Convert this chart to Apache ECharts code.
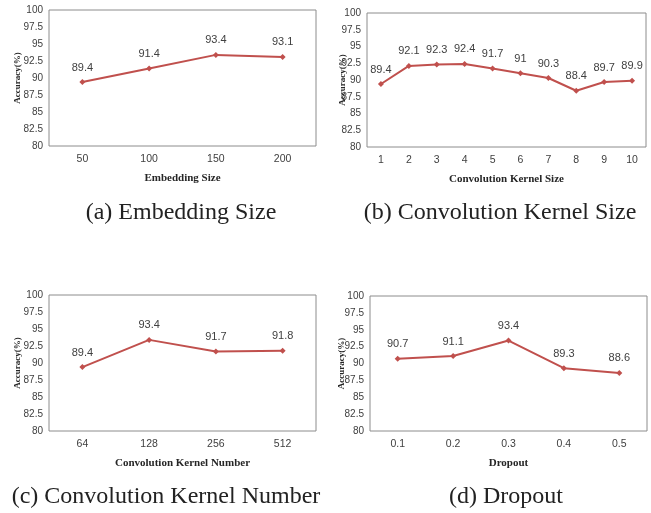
<!DOCTYPE html>
<html><head><meta charset="utf-8">
<script src="https://cdn.jsdelivr.net/npm/echarts@6/dist/echarts.min.js"></script>
<style>html,body{margin:0;padding:0;background:#fff}#c{width:651px;height:513px}</style>
</head><body><div id="c"></div>
<script>
const catsA = ['50','100','150','200'];
const valsA = [89.4, 91.4, 93.4, 93.1];
const catsB = ['1','2','3','4','5','6','7','8','9','10'];
const valsB = [89.4, 92.1, 92.3, 92.4, 91.7, 91, 90.3, 88.4, 89.7, 89.9];
const catsC = ['64','128','256','512'];
const valsC = [89.4, 93.4, 91.7, 91.8];
const catsD = ['0.1','0.2','0.3','0.4','0.5'];
const valsD = [90.7, 91.1, 93.4, 89.3, 88.6];
const xNames = ['Embedding Size','Convolution Kernel Size','Convolution Kernel Number','Dropout'];
const captions = ['(a) Embedding Size','(b) Convolution Kernel Size','(c) Convolution Kernel Number','(d) Dropout'];
const yName = 'Accuracy(%)';
const yMin = 80, yMax = 100, yStep = 2.5;

const grids = [
  {left:49, top:10, width:267, height:136},
  {left:367, top:13, width:279, height:134},
  {left:49, top:295, width:267, height:136},
  {left:370, top:296, width:277, height:135}
];
const yNameGaps = [27, 20, 27, 24];
const cats = [catsA, catsB, catsC, catsD];
const vals = [valsA, valsB, valsC, valsD];
const red = '#C0504D';
const capFont = '24px "Liberation Serif"';

const option = {
  backgroundColor:'#fff',
  animation:false,
  grid: grids.map(g => Object.assign({show:true, borderColor:'#8c8c8c', borderWidth:1, backgroundColor:'transparent', containLabel:false}, g)),
  xAxis: cats.map((c,i) => ({
    type:'category', gridIndex:i, data:c, boundaryGap:true,
    axisLine:{show:false}, axisTick:{show:false},
    axisLabel:{color:'#404040', fontSize:10.5, fontFamily:'Liberation Sans', margin:8},
    name:xNames[i], nameLocation:'middle', nameGap:27, nameMoveOverlap:false,
    nameTextStyle:{fontFamily:'Liberation Serif', fontWeight:'bold', fontSize:11, color:'#262626'}
  })),
  yAxis: cats.map((c,i) => ({
    type:'value', gridIndex:i, min:yMin, max:yMax, interval:yStep,
    splitLine:{show:false}, axisLine:{show:false}, axisTick:{show:false},
    axisLabel:{color:'#404040', fontSize:10, fontFamily:'Liberation Sans', margin:6},
    name:yName, nameLocation:'middle', nameGap:yNameGaps[i], nameMoveOverlap:false,
    nameTextStyle:{fontFamily:'Liberation Serif', fontWeight:'bold', fontSize:9, color:'#262626'}
  })),
  series: vals.map((v,i) => ({
    type:'line', xAxisIndex:i, yAxisIndex:i, data:v,
    symbol:'diamond', symbolSize:6,
    lineStyle:{color:red, width:2}, itemStyle:{color:red},
    label:{show:true, position:'top', distance:6, color:'#404040', fontSize:11, fontFamily:'Liberation Sans'}
  })),
  graphic: [
    {type:'text', x:181, y:213, style:{text:captions[0], fill:'#222', font:capFont, textAlign:'center', textVerticalAlign:'middle'}},
    {type:'text', x:500, y:213, style:{text:captions[1], fill:'#222', font:capFont, textAlign:'center', textVerticalAlign:'middle'}},
    {type:'text', x:166, y:497, style:{text:captions[2], fill:'#222', font:capFont, textAlign:'center', textVerticalAlign:'middle'}},
    {type:'text', x:506, y:497, style:{text:captions[3], fill:'#222', font:capFont, textAlign:'center', textVerticalAlign:'middle'}}
  ]
};
echarts.init(document.getElementById('c')).setOption(option);
</script></body></html>
